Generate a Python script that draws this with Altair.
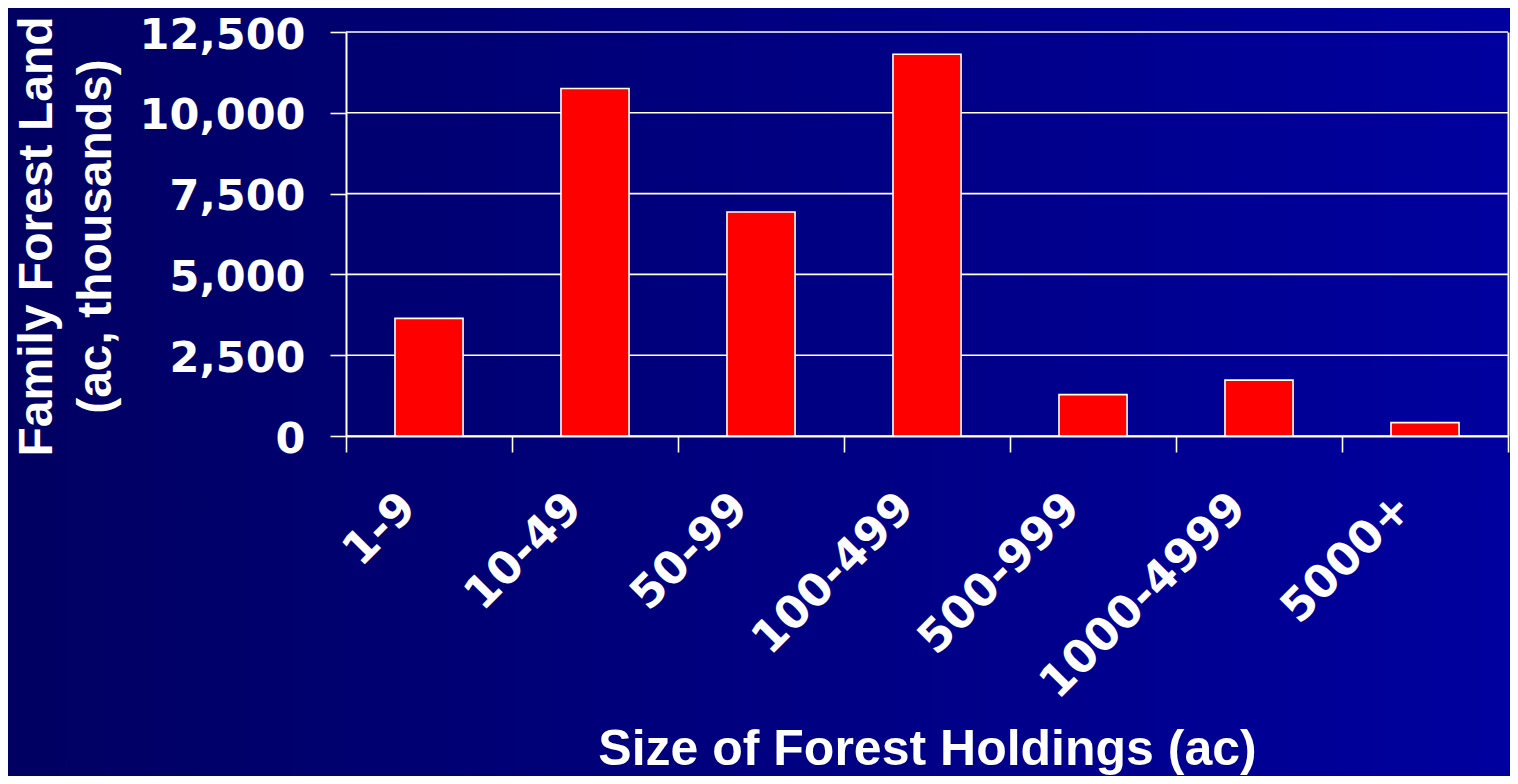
import altair as alt
import pandas as pd

# ---- data ----
categories = ["1-9", "10-49", "50-99", "100-499", "500-999", "1000-4999", "5000+"]
land_thousand_ac = [3640, 10750, 6930, 11810, 1280, 1730, 415]
y_tick_values = [0, 2500, 5000, 7500, 10000, 12500]

x_title = "Size of Forest Holdings (ac)"
y_title = ["Family Forest Land", "(ac, thousands)"]

bars_df = pd.DataFrame({"size": categories, "land": land_thousand_ac})
grid_df = pd.DataFrame({"land": y_tick_values})
bg_df = pd.DataFrame({"k": [0]})

W, H = 1162, 404
PAD_L, PAD_T, PAD_R, PAD_B = 338, 24, 2, 340

y_scale = alt.Scale(domain=[0, 12500], nice=False, zero=True)

# background gradient covering the whole canvas
bg = alt.Chart(bg_df).mark_rect(
    fill=alt.Gradient(
        gradient="linear", x1=0, x2=1, y1=0, y2=0,
        stops=[alt.GradientStop(color="#000062", offset=0),
               alt.GradientStop(color="#00009f", offset=1)],
    ),
    strokeWidth=0,
).encode(
    x=alt.value(-PAD_L), x2=alt.value(W + PAD_R),
    y=alt.value(-PAD_T), y2=alt.value(H + PAD_B),
)

# horizontal grid lines + right-hand frame axis
grid = alt.Chart(grid_df).mark_rule(color="white", strokeWidth=1.6).encode(
    y=alt.Y("land:Q", scale=y_scale,
            axis=alt.Axis(orient="right", labels=False, ticks=False, title=None,
                          grid=False, domain=True, domainColor="white",
                          domainWidth=2, zindex=1, values=y_tick_values))
)

bars = alt.Chart(bars_df).mark_bar(
    color="#ff0000", stroke="white", strokeWidth=1.6,
    width=alt.RelativeBandSize(0.41),
).encode(
    x=alt.X("size:N", sort=categories,
            scale=alt.Scale(paddingInner=0, paddingOuter=0),
            axis=alt.Axis(
                title=x_title, titleFont="Liberation Sans", titleFontSize=50,
                titleFontWeight="bold", titleColor="white",
                titleX=W / 2, titleY=328, titleAlign="center",
                titleBaseline="alphabetic",
                labelAngle=315, labelAlign="right", labelBaseline="middle",
                labelFont="DejaVu Sans", labelFontWeight="bold",
                labelFontSize=45, labelColor="white", labelLimit=600,
                labelPadding=48, labelOffset=-21,
                tickBand="extent", tickSize=16, tickColor="white",
                tickWidth=1.6, domainColor="white", domainWidth=2,
                grid=False, zindex=1, labelOverlap=False, labelBound=False,
            )),
    y=alt.Y("land:Q", scale=y_scale,
            axis=alt.Axis(
                values=y_tick_values, format=",.0f", grid=False,
                title=y_title, titleFont="Liberation Sans", titleFontSize=48,
                titleFontWeight="bold", titleColor="white",
                titleAngle=270, titleX=-295, titleY=H / 2 + 2,
                titleAlign="center", titleBaseline="alphabetic",
                titleLineHeight=59,
                labelFont="DejaVu Sans", labelFontWeight="bold",
                labelFontSize=43, labelColor="white", labelPadding=25,
                labelLimit=400, labelOffset=3,
                tickSize=16, tickColor="white", tickWidth=1.6,
                domainColor="white", domainWidth=2, zindex=1,
                labelOverlap=False,
            )),
)

chart = alt.layer(bg, grid, bars).resolve_scale(y="independent").resolve_axis(
    y="independent"
).properties(
    width=W, height=H,
    autosize=alt.AutoSizeParams(type="none"),
    padding={"left": PAD_L, "top": PAD_T, "right": PAD_R, "bottom": PAD_B},
    background="#000080",
).configure_view(strokeWidth=0)

chart.save("out.html", embed_options={"renderer": "svg", "actions": False})
